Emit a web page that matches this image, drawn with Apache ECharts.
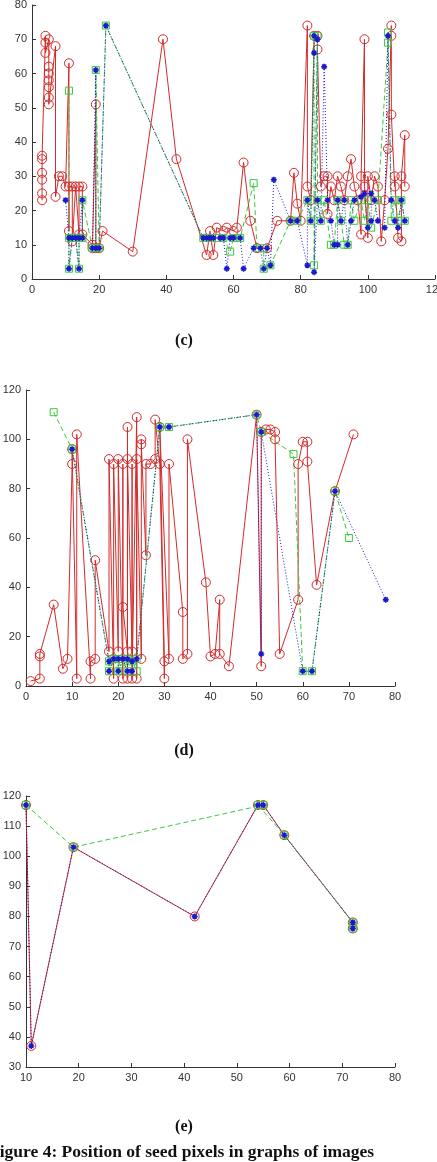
<!DOCTYPE html>
<html>
<head>
<meta charset="utf-8">
<script src="https://cdn.jsdelivr.net/npm/echarts@6.0.0/dist/echarts.min.js"></script>
<style>
  html, body { margin: 0; padding: 0; background: #fff; }
  #chart { width: 437px; height: 1162px; }
</style>
</head>
<body>
<div id="chart"></div>
<script>
// (c) seed pixel positions
var cRed = [[3,23],[3,25],[3,29],[3,31],[3,35],[3,36],[4,71],[4,69],[4,66],[5,70],[5,62],[5,60],[5,58],[5,56],[5,53],[5,51],
    [7,68],[7,24],[8,30],[9,30],[10,27],[11,63],[11,14],[11,27],[12,27],[12,11],[13,27],[14,13],[14,27],[15,27],[15,13],
    [18,10],[18,9],[19,51],[19,9],[20,9],[21,14],[30,8],[39,70],[43,35],[52,7],[53,14],[54,7],[55,15],[57,14],[58,15],
    [60,14],[61,15],[63,34],[65,17],[67,9],[70,9],[73,17],[77,17],[78,31],[79,22],[80,17],[82,74],[82,27],[83,23],
    [84,71],[85,71],[85,67],[86,27],[87,30],[88,30],[88,19],[89,27],[90,23],[91,30],[92,27],[93,23],[94,30],[95,35],
    [96,27],[97,23],[98,13],[98,30],[99,70],[99,27],[100,12],[100,30],[101,23],[102,30],[103,27],[104,11],[105,23],
    [106,38],[107,74],[107,71],[107,48],[108,27],[108,30],[109,12],[110,11],[110,30],[111,42],[111,27]];
var cGreen = [[11,55],[11,12],[11,3],[12,12],[13,12],[14,3],[14,12],[15,12],[15,23],[18,9],[19,9],[19,61],[20,9],[22,74],
    [51,12],[52,12],[53,12],[55,12],[57,12],[59,8],[60,12],[62,12],[66,28],[67,9],[69,9],[69,3],[71,4],[77,17],[79,17],
    [82,23],[83,17],[84,71],[84,4],[85,71],[85,23],[86,17],[87,23],[89,10],[90,10],[91,23],[92,17],[93,10],[94,10],
    [95,23],[96,17],[98,23],[99,17],[100,23],[101,15],[103,23],[106,69],[106,72],[107,17],[108,23],[109,17],[110,23],[111,17]];
var cBlue = [[10,23],[11,12],[11,3],[12,12],[13,12],[14,3],[14,12],[15,23],[15,12],[18,9],[19,61],[19,9],[20,9],[22,74],
    [51,12],[52,12],[53,12],[54,12],[56,12],[57,12],[58,3],[59,12],[60,12],[62,12],[63,3],[66,9],[68,9],[69,3],[70,9],
    [71,4],[72,29],[77,17],[79,17],[82,4],[82,23],[83,17],[84,66],[84,71],[85,70],[84,2],[85,23],[86,17],[87,62],[88,23],
    [89,17],[90,10],[91,10],[91,23],[92,17],[93,23],[94,10],[95,17],[96,23],[98,24],[99,25],[100,15],[101,17],[101,25],
    [102,23],[103,17],[105,15],[106,71],[107,23],[108,17],[109,15],[110,23],[111,17]];

// (d)
var dRed = [[1,2],[3,3],[3,12],[3,13],[6,33],[8,7],[9,11],[10,90],[10,96],[11,3],[11,102],[14,3],[14,10],[15,11],[15,51],
    [18,14],[18,92],[19,3],[19,90],[20,14],[20,92],[21,3],[21,90],[21,32],[22,14],[22,105],[22,3],[22,92],[23,14],[23,90],
    [23,3],[24,109],[24,3],[24,92],[25,11],[25,100],[25,98],[26,53],[26,90],[27,90],[28,92],[28,108],[29,90],[30,3],
    [30,10],[29,105],[31,11],[31,90],[34,30],[34,11],[35,13],[35,100],[39,42],[40,12],[41,13],[42,35],[42,13],[44,8],
    [50,110],[51,8],[51,103],[52,104],[53,104],[54,103],[54,100],[55,13],[59,35],[59,90],[60,99],[61,99],[61,91],[63,41],
    [67,79],[71,102]];
var dGreen = [[6,111],[10,96],[18,10],[18,6],[19,11],[20,6],[20,11],[21,10],[22,6],[22,11],[23,10],[24,6],[24,11],
    [29,105],[31,105],[50,110],[51,103],[58,94],[60,6],[62,6],[67,79],[70,60]];
var dBlue = [[10,96],[18,10],[18,6],[19,11],[20,11],[20,6],[21,11],[22,6],[22,11],[23,10],[23,6],[24,11],[29,105],
    [31,105],[50,110],[51,13],[51,103],[60,6],[62,6],[67,79],[78,35]];

// (e)
var eRed = [[10,117],[11,37],[19,103],[42,80],[54,117],[55,117],[59,107],[72,78],[72,76]];
var eGreen = [[10,117],[19,103],[55,117],[54,117],[59,107],[72,78],[72,76]];
var eBlue = [[10,117],[11,37],[19,103],[42,80],[54,117],[55,117],[59,107],[72,78],[72,76]];

var panelLabels = ['(c)', '(d)', '(e)'];
var caption = 'Figure 4: Position of seed pixels in graphs of images';

var RED = '#d42a2a', GREEN = '#3cc83c', BLUE = '#1a1acc';
var STAR = 'path://M5,0L5,10M0,5L10,5M1.5,1.5L8.5,8.5M8.5,1.5L1.5,8.5';

function makeAxis(grid, min, max, step) {
    return {
        type: 'value', gridIndex: grid, min: min, max: max, interval: step,
        splitLine: { show: false },
        axisLine: { show: true, onZero: false, lineStyle: { color: '#333', width: 1 } },
        axisTick: { show: true, inside: true, length: 4, lineStyle: { color: '#333' } },
        axisLabel: { color: '#333', fontSize: 11, fontFamily: 'Liberation Sans', margin: 5, hideOverlap: false }
    };
}

function makeSeries(data, grid, kind) {
    var s = {
        type: 'line', data: data, xAxisIndex: grid, yAxisIndex: grid,
        animation: false, silent: true, showAllSymbol: true, clip: false
    };
    if (kind === 'r') {
        s.symbol = 'circle'; s.symbolSize = 9;
        s.lineStyle = { color: RED, width: 1 };
        s.itemStyle = { color: 'rgba(0,0,0,0)', borderColor: RED, borderWidth: 1 };
    } else if (kind === 'g') {
        s.symbol = 'rect'; s.symbolSize = 7;
        s.lineStyle = { color: GREEN, width: 1, type: [5, 3] };
        s.itemStyle = { color: 'rgba(0,0,0,0)', borderColor: GREEN, borderWidth: 1 };
    } else {
        s.symbol = STAR; s.symbolSize = 6;
        s.lineStyle = { color: BLUE, width: 1, type: [1, 2] };
        s.itemStyle = { color: 'rgba(0,0,0,0)', borderColor: BLUE, borderWidth: 1.5 };
    }
    return s;
}

var option = {
    backgroundColor: '#fff',
    grid: [
        { left: 32, top: 5, width: 403, height: 274, outerBoundsMode: 'none', containLabel: false },
        { left: 26, top: 390, width: 369, height: 296, outerBoundsMode: 'none', containLabel: false },
        { left: 26, top: 796, width: 369, height: 271, outerBoundsMode: 'none', containLabel: false }
    ],
    xAxis: [makeAxis(0, 0, 120, 20), makeAxis(1, 0, 80, 10), makeAxis(2, 10, 80, 10)],
    yAxis: [makeAxis(0, 0, 80, 10), makeAxis(1, 0, 120, 20), makeAxis(2, 30, 120, 10)],
    series: [
        makeSeries(cRed, 0, 'r'), makeSeries(cGreen, 0, 'g'), makeSeries(cBlue, 0, 'b'),
        makeSeries(dRed, 1, 'r'), makeSeries(dGreen, 1, 'g'), makeSeries(dBlue, 1, 'b'),
        makeSeries(eRed, 2, 'r'), makeSeries(eGreen, 2, 'g'), makeSeries(eBlue, 2, 'b')
    ],
    graphic: [
        { type: 'text', x: 184, y: 341, style: { text: panelLabels[0], font: 'bold 16px "Liberation Serif"', fill: '#111', align: 'center', verticalAlign: 'middle' } },
        { type: 'text', x: 184, y: 751, style: { text: panelLabels[1], font: 'bold 16px "Liberation Serif"', fill: '#111', align: 'center', verticalAlign: 'middle' } },
        { type: 'text', x: 184, y: 1127, style: { text: panelLabels[2], font: 'bold 16px "Liberation Serif"', fill: '#111', align: 'center', verticalAlign: 'middle' } },
        { type: 'text', x: -11, y: 1152, style: { text: caption, font: 'bold 17.5px "Liberation Serif"', fill: '#111', align: 'left', verticalAlign: 'middle' } }
    ]
};

window.onload = function() {
    var chart = echarts.init(document.getElementById('chart'));
    chart.setOption(option);
};
</script>
</body>
</html>
